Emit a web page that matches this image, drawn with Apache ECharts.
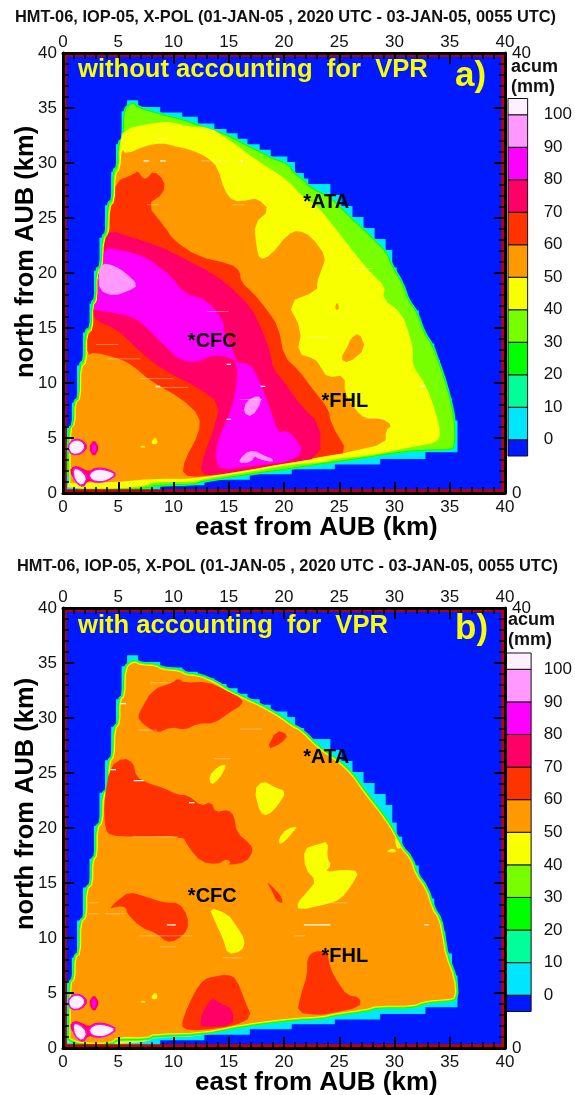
<!DOCTYPE html>
<html><head><meta charset="utf-8">
<style>html,body{margin:0;padding:0;background:#fff}#c{width:575px;height:1095px}</style>
<script src="https://cdn.jsdelivr.net/npm/echarts@6/dist/echarts.min.js"></script>
</head><body><div id="c"></div>
<script>
const cbarEdges=[-5,0,10,20,30,40,50,60,70,80,90,100,105];
const cbarLabels=[0,10,20,30,40,50,60,70,80,90,100];
const BLUE='#0019ff',CYAN='#00e6ff',AQUA='#00ff99',GREEN='#00ff00',LIME='#77ff00',YELLOW='#f8ff00',ORANGE='#ff9900',RED='#ff3300',CRIM='#ff0066',MAG='#ff00ff',PINK='#ff99ff',PALE='#fff0ff';
const cbarColors=[BLUE,CYAN,AQUA,GREEN,LIME,YELLOW,ORANGE,RED,CRIM,MAG,PINK,PALE];
const sites=[['*ATA',21.75,26.4],['*CFC',11.3,13.75],['*FHL',23.4,8.3]];
const domain=[[0,0],[40,0],[40,40],[0,40]];
const footprint=[[.3,.3],[.36,6.06],[.8,6.06],[.8,8.2],[1.27,8.2],[1.27,11.6],[1.8,11.6],[1.8,14.6],[2.4,14.6],[2.4,17.2],[2.8,17.2],[2.8,20.2],[3.3,20.2],[3.3,23.2],[3.8,23.2],[3.8,26.15],[4.36,26.15],[4.36,29.2],[4.8,29.2],[4.8,31.7],[5.3,31.7],[5.3,34.7],[5.8,34.7],[5.8,35.7],[6.8,35.7],[6.8,35.1],[8.8,35.1],[8.8,34.6],[10.8,34.6],[10.8,34.2],[12.2,34.2],[12.2,33.6],[13.7,33.6],[13.7,33.1],[14.8,33.1],[14.8,32.7],[15.8,32.7],[15.8,32.2],[16.7,32.2],[16.7,31.7],[17.8,31.7],[17.8,31.2],[18.8,31.2],[18.8,30.6],[20.3,30.6],[20.3,30.1],[21,30.1],[21,29.1],[21.8,29.1],[21.8,28.6],[22.2,28.6],[22.2,28.1],[24.2,28.1],[24.2,27.1],[25.2,27.1],[25.2,26.1],[26.2,26.1],[26.2,25.1],[27.2,25.1],[27.2,24.1],[28.2,24.1],[28.2,23.1],[29.2,23.1],[29.2,22.1],[29.8,22.1],[29.8,20.5],[30.2,20.5],[30.2,19.2],[30.7,19.2],[30.7,17.7],[31.2,17.7],[31.2,16.6],[32.2,16.6],[32.2,14.6],[32.8,14.6],[32.8,13.6],[33.6,13.6],[33.6,12.1],[34.1,12.1],[34.1,10.6],[34.6,10.6],[34.6,8.6],[35.2,8.6],[35.2,6.6],[35.7,6.6],[35.7,3.7],[32.8,3.7],[32.8,3.1],[28.7,3.1],[28.7,2.6],[24.6,2.6],[24.6,2.15],[20.7,2.15],[20.7,1.7],[16.9,1.7],[16.9,1.2],[12.8,1.2],[12.8,.7],[8.8,.7],[8.8,.25]];
const leftEdge=[[.7,1],[.7,5.8],[1.15,6.3],[1.15,8.2],[1.65,8.6],[1.65,11.4],[2.2,11.9],[2.2,14.4],[2.75,14.9],[2.75,17],[3.15,17.5],[3.15,20],[3.65,20.5],[3.7,23],[4.2,23.5],[4.25,26],[4.7,26.5],[4.75,29],[5.2,29.5],[5.2,31.6],[5.65,32],[5.7,34.5],[6.3,35.1]];
function leftPart(lo,hi,asc,dx){const r=leftEdge.filter(p=>p[1]>=lo&&p[1]<=hi).map(p=>[p[0]+(dx||0),p[1]]);return asc?r:r.reverse();}
// Panel a contours
const aLime=[[.5,.4],[.5,5.7],[1,6.2],[1.05,8.3],[1.5,8.6],[1.55,11.7],[2,12],[2.05,14.7],[2.6,15],[2.65,17.3],[3,17.6],[3.05,20.3],[3.5,20.6],[3.6,23.3],[4,23.6],[4.1,26.3],[4.55,26.6],[4.6,29.3],[5,29.6],[5.05,31.8],[5.5,32.2],[5.55,34.8],[6.3,35.5],[6.8,35],[8.8,34.4],[10.8,33.9],[12.2,33.4],[13.7,32.9],[14.8,32.5],[15.8,32],[16.7,31.5],[17.8,31],[18.8,30.4],[20.3,29.9],[21,28.9],[21.8,28.4],[22.2,27.8],[24.2,26.8],[25.2,25.8],[26.2,24.8],[27.2,23.9],[28.2,22.9],[29.2,21.9],[29.8,20.5],[30.7,19],[31.2,17.5],[32,16.4],[32.6,14.6],[33.4,13.4],[33.9,12],[34.4,10.6],[35,8.5],[35.4,6.6],[35.4,4.2],[35,4],[32.2,3.95],[29.2,3.6],[27.6,3.3],[24,2.8],[21.9,2.5],[20.1,2.2],[18.5,2],[16.5,1.7],[12.5,1.1],[11.9,.85],[8.2,.75],[7.6,.5],[4.9,.35]];
const aYellow=[[.4,.4],[.45,.85],...leftPart(1,31.7,true,-.1),[5.5,33.1],[8.5,33.7],[10,33.7],[11.3,33.3],[13.2,33.3],[15.2,32],[17.3,30.4],[20.4,28.4],[21.6,27],[23.1,26],[24.3,24.5],[25.9,22.4],[27.7,20.2],[29.2,18.7],[28.9,17.7],[30.7,16.3],[31.4,14.2],[31.7,13],[31.6,11.6],[32.8,9.9],[33.7,7.5],[34.2,5.4],[33.8,4.6],[32.2,4.3],[29.2,3.7],[27.6,3.4],[24.6,3.1],[23.7,2.8],[20.7,2.6],[16.7,1.9],[12.8,1.3],[11.9,1],[8.2,1],[7.6,.7],[5.2,.4]];
const aOrange=[[.6,.9],[4.9,1],[8.1,1.3],[12.2,1.3],[16.7,2.2],[20.3,2.8],[24,3.4],[25.8,3.7],[29.2,4.5],[29.2,5.7],[29.8,6.15],[28.8,6.8],[27.3,6.8],[26.6,7.4],[25.5,9],[25.5,10.7],[23.9,10.5],[23.3,11.5],[22.8,12.2],[21.2,12.7],[21.6,14.8],[20.3,17.3],[23,18.4],[23,19.2],[23.4,20.3],[23.8,21.5],[22.5,23.3],[21.3,23.9],[20.3,23.5],[18.8,21.6],[17.8,21.2],[17.5,22.4],[17.3,24.5],[18.7,25.7],[17.6,26.8],[16.7,26.6],[15.4,26.5],[14.6,27.5],[14,29.6],[13.1,30.5],[11.6,31.2],[9.8,31.6],[9,31.8],[7.6,31.6],[5.7,30.8],[5.3,31.3],...leftPart(1,31,false)];
const aIsland1=[[26.8,14.6],[27.4,13.1],[25.8,11.8],[25.1,12.2],[25.8,13.4],[26,14]];
const aIsland2=[[24.8,17.4],[25,16.8],[24.8,16.6],[24.6,16.8]];
const aRed=[[4.75,28.3],[6.4,29],[6.8,29.3],[7.2,28.6],[7.6,28.6],[8.2,29.3],[9.2,28.4],[9.1,27.2],[7.6,26.2],[9.2,24.2],[10,23],[12.2,21.5],[15.2,20.8],[16,20.2],[16.1,19.2],[17.3,18.1],[18.5,16.6],[19.5,15.1],[20,12.4],[21.3,11.2],[22.7,9.3],[24,7.7],[24.3,6.2],[25.8,3.7],[24,3.4],[20.1,2.7],[16.7,2.15],[12.5,1.45],[10.8,1.6],[11,3],[12.3,5.4],[12.4,7],[10.7,8.6],[7.9,10.2],[6.4,11.5],[5.2,12.2],[2.8,12.8],[2.2,12.5],...leftPart(12.6,28.2,true)];
const aCrimson=[[3.75,23],[4.3,23.9],[6.4,23.2],[8.8,22.4],[10.4,21.6],[12.5,20.5],[13.1,20.2],[14.9,19],[17,16.9],[17.9,15.1],[18.8,12.7],[19,11.3],[20.1,10],[21.3,8.2],[23.3,6.2],[23.3,3.2],[20.1,2.7],[16.7,2.06],[13.6,1.6],[12.5,1.75],[12.6,3],[13.7,6],[14.2,8.1],[12.2,9.6],[9.2,11.1],[7,12.8],[4.9,14.9],[2.8,15.7],...leftPart(15.8,22.9,true)];
const aMagenta=[[3.7,22.2],[4.6,22.2],[6.4,21.8],[7.9,21.2],[8.7,20.5],[9.6,19.9],[11,18.1],[13,17.6],[14.5,15.7],[14.6,14.5],[15.5,12.7],[15.7,11.8],[16.9,11.8],[17.8,10.2],[18.8,7.5],[19.5,5.4],[20.1,5.7],[20.9,5.2],[21.8,3.6],[20.1,2.8],[19.2,2.7],[16.7,2.4],[14.3,2.06],[13.8,3],[14,4.8],[15.2,7.5],[15.8,10.2],[15.7,11.9],[14.9,12.4],[13.4,12.5],[12.2,11.9],[10.7,12],[9.5,13.1],[7.6,15],[6.4,16],[4.6,16.4],[2.85,16.6],...leftPart(16.7,22.1,true)];
const aPink1=[[3.5,20.9],[4.6,20.7],[5.7,20],[6.8,18.9],[6,18.4],[4.6,17.9],[3.3,18.4],[3.2,19.9]];
const aPink2=[[17.7,8.9],[18,8.3],[17.1,6.9],[16.3,7.3],[16.6,8.4]];
const aPink3=[[15.8,2.7],[16.4,3.6],[17.3,3.9],[18.2,3.4],[19,3.1],[19,2.8],[17.6,3.1],[17.4,3.4],[17,2.8]];
const aDashes=[[7.3,7.8,30.2],[8.8,9.3,30.2],[16,16.3,30.2],[14.8,15.2,11.7],[8.4,8.8,9.7],[17.9,18.3,9.7],[14.8,15.2,6.7],[32.3,32.7,9.7]];
const aFaint=[[8.4,9.5,32.2],[12.5,14.8,30.2],[15.4,16.4,26.2],[7.6,8.7,26.2],[7,10,10.4],[8.4,11.3,9.6],[27.3,29.2,6.8],[3,5,13.5],[4,7,12.2],[13,15,16.5],[16,18,8.5],[26,28,20.4],[22,24,14.2]];
// Panel b contours
const bOrange=[[6.4,35.1],[7,34.8],[8.5,34.7],[8.8,34.4],[10.7,34.2],[11,33.9],[12.2,33.8],[13.7,33.2],[14.9,32.4],[16.4,31.7],[17.9,31],[19.5,30.1],[20.7,29.2],[21.5,28.8],[23.2,27.1],[25,25.9],[26.2,24.7],[27,23.5],[29.1,20.8],[30,19.3],[30.5,18.2],[31.4,17.2],[31.9,15.7],[32.8,14.5],[33.4,12.6],[34,11.7],[34.3,10.2],[34.6,8.4],[35.4,6.3],[35.5,4.6],[34.9,4.45],[32.8,4.3],[31.7,3.85],[28.5,3.85],[27.3,3.5],[24.3,3.1],[23.7,2.9],[20.4,2.7],[16.5,2.2],[12.5,1.4],[8.2,1.3],[7.6,.97],[4.9,1],[4.3,.5],[1.6,.5],[.6,.9],...leftPart(1,35,true)];
const bYellowBand=[[.4,.35],[4.9,.35],[7.6,.55],[8.2,.95],[12.5,1.05],[12.8,1.45],[8.2,1.4],[4.9,1.1],[.4,1]];
const bReds=[
[[6.9,30.5],[8.1,32.6],[9.9,33.2],[10.4,33.6],[11,33.2],[13.1,33.3],[14.6,32.6],[16.3,31.7],[16.1,31.1],[15.2,30.6],[13.7,29.5],[12.2,29.5],[11,28.9],[9.8,29.2],[8.5,28.6],[7.3,29.4],[6.8,30]],
[[4.25,25.6],[5.5,26.4],[6.4,25.9],[6.6,24.7],[7.6,24.1],[9.2,23.6],[10.4,23],[11.3,23],[12.5,22],[13.4,22.4],[13.8,21.4],[14.9,21.7],[15.5,21.1],[15.7,19.6],[17,18.5],[17.2,17.9],[16.6,16.9],[14.9,16.6],[15.2,16.9],[14.8,17.2],[14,16.7],[12.5,16.9],[11.4,18.2],[10.8,19.3],[6.4,19.2],[4.3,19.3],[3.8,19.9],[3.7,22.3]],
[[4.15,12.6],[4.9,13.4],[6,14.2],[7.3,13.8],[9.2,13.2],[10.5,13.2],[11.3,12],[11.3,10.7],[10.3,9.8],[9.4,9.6],[8.5,10.4],[7,11],[5.8,12.2],[5.7,12.8],[4.9,12.9]],
[[10.8,1.7],[10.8,2.6],[11.9,5.1],[12.8,6.3],[13.7,6.5],[14.9,6.7],[15.7,6.3],[16.5,4.2],[17.1,2.8],[15.5,2],[12.5,1.6]],
[[21.2,3.2],[21.5,4.8],[22.1,6.6],[22.1,8.2],[22.7,8.8],[23.9,8.8],[24.2,7.2],[24.8,6.1],[25.7,4.8],[26.9,4.6],[26.9,3.7],[24,3.1],[23.1,3]],
[[18.4,27.1],[19.3,28.9],[20.4,28.5],[19.8,27.7]],
[[18.4,15.2],[19.3,14.3],[19.8,13.7],[19.9,13.1],[19.3,13.4],[18.9,14.3]]];
const bCrimson=[[12.4,2.2],[12.6,3.2],[13.5,4.6],[14,4.2],[15.4,3.5],[15.4,2],[12.6,1.9]];
const bYellows=[
[[13.2,24.7],[14,25.6],[14.9,25.8],[14.1,24.4],[13.4,23.9]],
[[17.3,23.5],[18.1,24.3],[19.2,23.7],[20.2,23.3],[19.5,22.1],[18.5,21.1],[17.8,21.4]],
[[13.2,12.8],[14.9,12.2],[15.7,11.1],[16.5,9.8],[16.2,8.8],[14.9,8.5],[14.5,9.9],[13.8,11.4]],
[[19.5,19],[20.2,19.9],[21.3,20.2],[20.7,19.5],[20.1,18.8],[19.6,18.5]],
[[21.8,18.1],[23,18.5],[24,18.8],[23.9,17.3],[24.3,16.6],[23.7,16],[25.4,16.2],[26.8,16.1],[26.2,14.9],[25.1,13.5],[24,13.1],[21.3,12.5],[21.2,13.2],[22.2,14.3],[22.9,15.2],[21.9,16.3]],
[[29.2,17.8],[29.8,18.2],[30.3,17.8]],
[[30,19.3],[30.7,18.3],[30.2,18]]];
const bDashes=[[9.4,10.2,11.2],[21.8,24.2,11.2],[32.7,33.1,11.2],[5.2,5.7,31.3],[4.3,4.8,25.3],[6.4,7.3,24.3],[11.4,11.9,22.3]];
const bFaint=[[2.3,3.2,13.2],[2.3,3.2,12.2],[3.8,5.7,12.2],[6.9,11.7,10.2],[8.8,10.2,9.2],[14.5,16.3,8.2],[6.3,10.4,19.2],[20.9,21.9,10.2],[23.7,25.7,13.2],[7.9,9.8,33.2],[6.9,8.5,28.9],[13.7,15.2,26.3],[16,18,29]];
// Features common to both panels
const spotsYellow=[[[8,4.7],[8.4,5.1],[8.6,4.5],[8.1,4.4]],[[6.9,4.15],[7.3,4.35],[7.5,4.1]]];
const blobOuter=[[[.4,4.2],[.9,4.95],[1.7,4.9],[2.3,4.25],[1.7,3.5],[.8,3.4]],[[2.8,4.9],[3.3,4.1],[2.8,3.2],[2.3,4.1]],[[.55,2],[1,2.5],[1.7,2.3],[2.3,1.95],[3,2.35],[4,2.25],[5,1.7],[4,1.05],[3,.9],[2.3,1.15],[1.8,.45],[1.2,.95]]];
const blobInner=[[[.5,4.2],[.9,4.75],[1.6,4.75],[2,4.25],[1.6,3.65],[.8,3.55]],[[.95,2.2],[1.5,2.1],[2.15,1.4],[1.75,.65],[1.1,1.15]],[[2.4,1.75],[3.1,2.15],[4,2],[4.75,1.7],[4,1.2],[3.4,1.05],[2.6,1.2]]];
const blobMag=[[2.8,4.6],[3.05,4.1],[2.8,3.45],[2.55,4.1]];
const frameRect=[[.2,.2],[39.8,.2],[39.8,39.8],[.2,39.8]];

const FONT='"Liberation Sans",Arial,sans-serif';
const series=[];
function round(pts){ // light corner rounding of a hand-read contour
  const o=[];pts.forEach((p,i)=>{const q=pts[(i+1)%pts.length];
    o.push([.75*p[0]+.25*q[0],.75*p[1]+.25*q[1]],[.25*p[0]+.75*q[0],.25*p[1]+.75*q[1]]);});
  return o;
}
function poly(g,pts,fill,stroke,lw){
  series.push({type:'custom',coordinateSystem:'cartesian2d',xAxisIndex:g*2,yAxisIndex:g*2,z:2,silent:true,animation:false,
    data:pts,encode:{x:0,y:1},
    renderItem:(p,api)=>{
      if(p.dataIndex!==0)return null;
      return {type:'polygon',shape:{points:pts.map(q=>api.coord(q))},
        style:{fill:fill||'none',stroke:stroke||null,lineWidth:lw||0,lineJoin:'round'}};
    }});
}
function sm(g,pts,fill){poly(g,round(pts),fill);}
function ringed(g,pts,fill,rings){
  const r=round(pts);
  rings.forEach(x=>poly(g,r,null,x[0],x[1]));
  poly(g,r,fill);
}
function dashes(g,list,op,w){
  list.forEach(d=>series.push({type:'line',xAxisIndex:g*2,yAxisIndex:g*2,z:2,silent:true,animation:false,symbol:'none',
    data:[[d[0],d[2]],[d[1],d[2]]],lineStyle:{color:'#fff',width:w,opacity:op}}));
}
function sitesSeries(g){
  series.push({type:'custom',coordinateSystem:'cartesian2d',xAxisIndex:g*2,yAxisIndex:g*2,z:4,silent:true,animation:false,
    data:sites.map(s=>[s[1],s[2],s[0]]),
    renderItem:(p,api)=>{const c=api.coord([api.value(0),api.value(1)]);
      return {type:'text',x:c[0],y:c[1],style:{text:sites[p.dataIndex][0],fill:'#000',font:'bold 20px '+FONT,textAlign:'left',textVerticalAlign:'middle'}};}});
}
function common(g){
  spotsYellow.forEach(s=>sm(g,s,YELLOW));
  blobOuter.forEach(s=>sm(g,s,CRIM));
  blobInner.forEach(s=>ringed(g,s,PALE,[[MAG,3]]));
  sm(g,blobMag,MAG);
}
// Panel a
poly(0,domain,BLUE);
poly(0,footprint,CYAN);
ringed(0,aLime,LIME,[[AQUA,4],[GREEN,2]]);
sm(0,aYellow,YELLOW);
sm(0,aOrange,ORANGE);
sm(0,aIsland1,ORANGE);sm(0,aIsland2,ORANGE);
sm(0,aRed,RED);sm(0,aCrimson,CRIM);sm(0,aMagenta,MAG);
[aPink1,aPink2,aPink3].forEach(s=>sm(0,s,PINK));
common(0);dashes(0,aFaint,.35,1);dashes(0,aDashes,1,1.2);
poly(0,frameRect,null,'#c00000',3);
sitesSeries(0);
// Panel b
poly(1,domain,BLUE);
poly(1,footprint,CYAN);
sm(1,bYellowBand,YELLOW);
ringed(1,bOrange,ORANGE,[[AQUA,7],[GREEN,5],[LIME,3.5],[YELLOW,2]]);
bReds.forEach(s=>sm(1,s,RED));
sm(1,bCrimson,CRIM);
bYellows.forEach(s=>sm(1,s,YELLOW));
common(1);dashes(1,bFaint,.35,1);dashes(1,bDashes,1,1.2);
poly(1,frameRect,null,'#c00000',3);
sitesSeries(1);
// Colour bars
[2,3].forEach(g=>cbarColors.forEach((col,i)=>{
  const r=[[0,cbarEdges[i]],[1,cbarEdges[i]],[1,cbarEdges[i+1]],[0,cbarEdges[i+1]]];
  poly(g,r,col,'#111',1);
}));

const grids=[
 {left:63,width:442,top:53,height:440},
 {left:63,width:442,top:608,height:440},
 {left:508,width:25,top:98.5,height:357.5},
 {left:506,width:25.5,top:653,height:358.5}];
function xa(g,pos){return {gridIndex:g,type:'value',position:pos,min:0,max:40,interval:5,z:10,splitLine:{show:false},
  axisLine:{onZero:false,lineStyle:{color:'#000',width:3}},
  axisTick:{inside:true,length:11,lineStyle:{color:'#000',width:2}},
  minorTick:{show:true,splitNumber:5,length:6,lineStyle:{color:'#000',width:1.5}},
  axisLabel:{show:true,fontSize:17,fontFamily:FONT,color:'#111',margin:pos==='top'?2:6,showMinLabel:true,showMaxLabel:true}};}
function ya(g,pos){const a=xa(g,pos);a.axisLabel.margin=pos==='left'?6:7;
  if(pos==='right'){a.axisLabel.formatter=v=>(v===0||v===40)?String(v):'';a.axisLabel.align='left';}
  return a;}
function hiddenX(g){return {gridIndex:g,type:'value',min:0,max:1,show:false};}
function cbY(g){return {gridIndex:g,type:'value',position:'right',min:-5,max:105,splitLine:{show:false},
  axisLine:{show:false},axisTick:{show:false},
  axisLabel:{customValues:cbarLabels,fontSize:17,fontFamily:FONT,color:'#111',margin:g===2?16:12.5}};}
const xAxes=[xa(0,'bottom'),xa(0,'top'),xa(1,'bottom'),xa(1,'top'),hiddenX(2),hiddenX(2),hiddenX(3),hiddenX(3)];
const yAxes=[ya(0,'left'),ya(0,'right'),ya(1,'left'),ya(1,'right'),cbY(2),cbY(2),cbY(3),cbY(3)];
yAxes[5]=Object.assign({},yAxes[5],{show:false});yAxes[7]=Object.assign({},yAxes[7],{show:false});
function txt(s,x,y,font,fill,extra){return Object.assign({type:'text',x:x,y:y,z:20,silent:true,style:{text:s,font:font+' '+FONT,fill:fill||'#111',textAlign:'left',textVerticalAlign:'middle'}},extra||{});}
const TITLE='HMT-06, IOP-05, X-POL (01-JAN-05 , 2020 UTC - 03-JAN-05, 0055 UTC)';
const graphics=[
 txt(TITLE,15,17.5,'bold 16.4px'),txt(TITLE,17,566,'bold 16.4px'),
 txt('without accounting  for  VPR',78,70,'bold 25.6px','#f8ff00'),
 txt('with accounting  for  VPR',78,626,'bold 25.6px','#f8ff00'),
 txt('a)',455,76,'bold 35px','#f8ff00'),txt('b)',455,629,'bold 35px','#f8ff00'),
 txt('acum',511,67,'bold 18px'),txt('(mm)',511,87,'bold 18px'),
 txt('acum',508,620,'bold 18px'),txt('(mm)',508,640,'bold 18px'),
 txt('east from AUB (km)',195,528,'bold 26px','#000'),
 txt('east from AUB (km)',195,1083,'bold 26px','#000'),
 txt('north from AUB (km)',25.5,378,'bold 25.5px','#000',{rotation:Math.PI/2}),
 txt('north from AUB (km)',25.5,930,'bold 25.5px','#000',{rotation:Math.PI/2})
];
const chart=echarts.init(document.getElementById('c'),null,{renderer:'canvas'});
chart.setOption({animation:false,grid:grids,xAxis:xAxes,yAxis:yAxes,series:series,graphic:{elements:graphics}});
</script></body></html>
